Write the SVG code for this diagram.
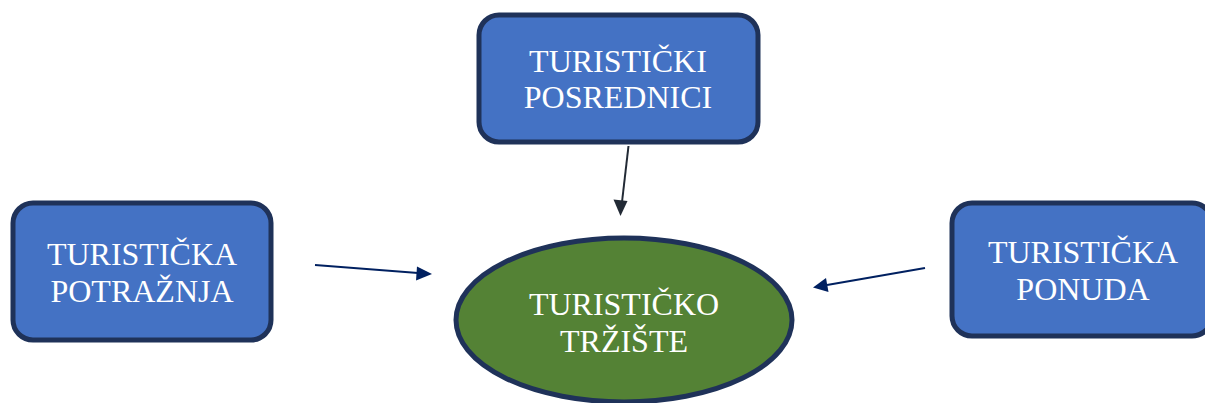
<svg xmlns="http://www.w3.org/2000/svg" width="1205" height="403" viewBox="0 0 1205 403">
<defs>
<style>
.box{fill:#4472C4;stroke:#1F3259;stroke-width:5}
.ell{fill:#548235;stroke:#1F3259;stroke-width:5}
.lbl{font-family:"Liberation Serif","Times New Roman",serif;font-size:32px;fill:#FFFFFF;text-anchor:middle}
.c1{stroke:#222A35;stroke-width:2;fill:none}
.c2{stroke:#002060;stroke-width:2;fill:none}
</style>
<marker id="ah1" viewBox="0 0 10 10" refX="10" refY="5" markerWidth="8" markerHeight="8" markerUnits="userSpaceOnUse" orient="auto">
<path d="M0,0 L10,5 L0,10 Z" fill="#222A35"/>
</marker>
<marker id="ah2" viewBox="0 0 10 10" refX="10" refY="5" markerWidth="8" markerHeight="8" markerUnits="userSpaceOnUse" orient="auto">
<path d="M0,0 L10,5 L0,10 Z" fill="#002060"/>
</marker>
</defs>
<rect width="1205" height="403" fill="#FFFFFF"/>
<g id="connectors">
<line class="c1" x1="628.5" y1="146" x2="622" y2="202"/>
<polygon points="620.5,216 613.5,199.5 627.5,201" fill="#222A35"/>
<line class="c2" x1="315" y1="265" x2="418" y2="273"/>
<polygon points="432,274 417,266.5 416,280.5" fill="#002060"/>
<line class="c2" x1="925" y1="268" x2="827" y2="285"/>
<polygon points="813,287.5 826,278 828.5,292" fill="#002060"/>
</g>
<g id="posrednici">
<rect class="box" x="479" y="15" width="279" height="127" rx="20" ry="20"/>
<text class="lbl" x="618" y="72">TURISTIČKI</text>
<text class="lbl" x="618" y="108">POSREDNICI</text>
</g>
<g id="potraznja">
<rect class="box" x="13" y="203" width="258" height="137" rx="20" ry="20"/>
<text class="lbl" x="142" y="265">TURISTIČKA</text>
<text class="lbl" x="142" y="302">POTRAŽNJA</text>
</g>
<g id="ponuda">
<rect class="box" x="952" y="203" width="260" height="133" rx="20" ry="20"/>
<text class="lbl" x="1083" y="263">TURISTIČKA</text>
<text class="lbl" x="1083" y="300">PONUDA</text>
</g>
<g id="trziste">
<ellipse class="ell" cx="624" cy="320" rx="168" ry="82"/>
<text class="lbl" x="624" y="315">TURISTIČKO</text>
<text class="lbl" x="624" y="352">TRŽIŠTE</text>
</g>
</svg>
